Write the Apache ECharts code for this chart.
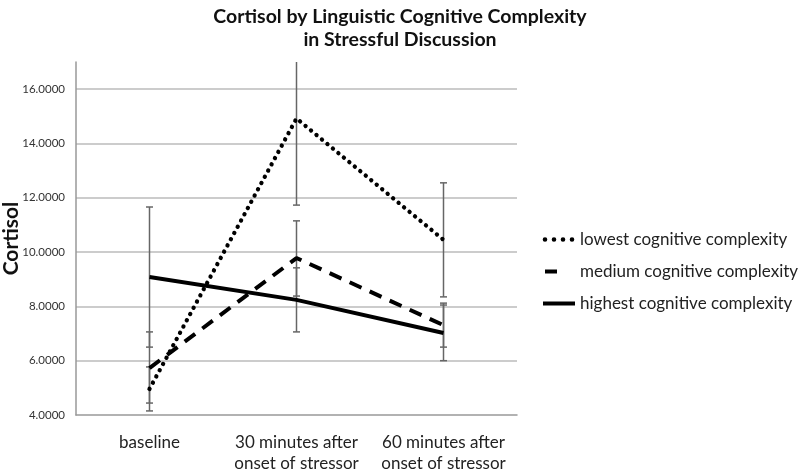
<!DOCTYPE html>
<html><head><meta charset="utf-8">
<script src="https://cdn.jsdelivr.net/npm/echarts@6/dist/echarts.min.js"></script>
<style>html,body{margin:0;padding:0;background:#fff}#c{width:800px;height:470px}</style>
</head><body><div id="c"></div>
<script>
var categories = ['baseline', '30 minutes after\nonset of stressor', '60 minutes after\nonset of stressor'];
var seriesNames = ['lowest cognitive complexity', 'medium cognitive complexity', 'highest cognitive complexity'];
var lowest = [4.96, 14.92, 10.45];
var medium = [5.73, 9.78, 7.31];
var highest = [9.08, 8.24, 7.02];
var lowestErr = [[4.15, 5.77], [11.73, 18.1], [8.35, 12.55]];
var mediumErr = [[4.44, 7.06], [8.38, 11.15], [6.5, 8.12]];
var highestErr = [[6.5, 11.66], [7.06, 9.42], [6.0, 8.05]];
var yTicks = [6, 8, 10, 12, 14, 16];

var errData = [];
[lowestErr, mediumErr, highestErr].forEach(function (arr) {
  arr.forEach(function (e, i) { errData.push([i, e[0], e[1]]); });
});

// legend sample icons drawn in a 34x14 box (tiny corner points fix the box)
var box = 'M0,0h0.01v0.01h-0.01Z M33.99,13.99h0.01v0.01h-0.01Z ';
function dot(cx) { return 'M' + (cx - 2.3) + ',7a2.3,2.3 0 1,0 4.6,0a2.3,2.3 0 1,0 -4.6,0Z '; }
var iconDotted = 'path://' + box + dot(4) + dot(13) + dot(22) + dot(31);
var iconDashed = 'path://' + box + 'M4,5h12v4h-12Z';
var iconSolid = 'path://' + box + 'M2,5h32v4h-32Z';

var chart = echarts.init(document.getElementById('c'));
var font = 'Lato, "Open Sans", sans-serif';
chart.setOption({
  animation: false,
  textStyle: { fontFamily: font },
  title: {
    text: 'Cortisol by Linguistic Cognitive Complexity\nin Stressful Discussion',
    left: 395, top: 0, textAlign: 'center',
    textStyle: { fontFamily: font, fontWeight: 'bold', fontSize: 19.5, lineHeight: 23, color: '#111' }
  },
  legend: {
    orient: 'vertical', left: 536, top: 226, itemWidth: 34, itemHeight: 14, itemGap: 15,
    symbolKeepAspect: false,
    itemStyle: { color: '#000', borderWidth: 0 },
    data: [
      { name: seriesNames[0], icon: iconDotted },
      { name: seriesNames[1], icon: iconDashed },
      { name: seriesNames[2], icon: iconSolid }
    ],
    textStyle: { fontFamily: font, fontSize: 17, color: '#222', padding: [0, 0, 0, 0] }
  },
  grid: { left: 76, right: 283, top: 62, bottom: 55, containLabel: false, outerBoundsMode: 'none' },
  xAxis: {
    type: 'category', data: categories, boundaryGap: true,
    axisLine: { lineStyle: { color: '#999', width: 1.5 } },
    axisTick: { show: false },
    axisLabel: { fontFamily: font, fontSize: 17, color: '#222', margin: 17, lineHeight: 21, interval: 0 },
    splitLine: { show: false }
  },
  yAxis: {
    type: 'value', min: 4, max: 17, interval: 2,
    name: 'Cortisol', nameLocation: 'middle', nameGap: 54, nameMoveOverlap: false,
    nameTextStyle: { fontFamily: font, fontWeight: 'bold', fontSize: 21, lineHeight: 21, color: '#111' },
    axisLine: { show: true, lineStyle: { color: '#999', width: 1.5 } },
    axisTick: { show: false },
    splitLine: { show: false },
    axisLabel: {
      fontFamily: font, fontSize: 11.5, color: '#333', margin: 11, showMaxLabel: false,
      formatter: function (v) { return v > 16 ? '' : v.toFixed(4); }
    }
  },
  series: [
    {
      type: 'custom', name: 'err', clip: true, z: 1, silent: true,
      data: errData,
      encode: { x: 0, y: [1, 2] },
      renderItem: function (params, api) {
        var x = api.value(0);
        var lo = api.coord([x, api.value(1)]);
        var hi = api.coord([x, api.value(2)]);
        var w = 3.5;
        var st = { stroke: '#666', lineWidth: 1.5 };
        return {
          type: 'group', children: [
            { type: 'line', shape: { x1: lo[0], y1: lo[1], x2: hi[0], y2: hi[1] }, style: st },
            { type: 'line', shape: { x1: lo[0] - w, y1: lo[1], x2: lo[0] + w, y2: lo[1] }, style: st },
            { type: 'line', shape: { x1: hi[0] - w, y1: hi[1], x2: hi[0] + w, y2: hi[1] }, style: st }
          ]
        };
      }
    },
    {
      type: 'line', name: seriesNames[0], data: lowest, symbol: 'none', z: 3,
      lineStyle: { color: '#000', width: 4.3, type: [0.1, 7], cap: 'round' },
      itemStyle: { color: '#000' },
      markLine: {
        silent: true, symbol: 'none', label: { show: false },
        lineStyle: { color: '#bbb', type: 'solid', width: 1.5 },
        data: yTicks.map(function (t) { return { yAxis: t }; }),
        z: 0
      }
    },
    {
      type: 'line', name: seriesNames[1], data: medium, symbol: 'none', z: 3,
      lineStyle: { color: '#000', width: 4, type: [13, 9] },
      itemStyle: { color: '#000' }
    },
    {
      type: 'line', name: seriesNames[2], data: highest, symbol: 'none', z: 3,
      lineStyle: { color: '#000', width: 4, type: 'solid' },
      itemStyle: { color: '#000' }
    }
  ]
});
</script></body></html>
